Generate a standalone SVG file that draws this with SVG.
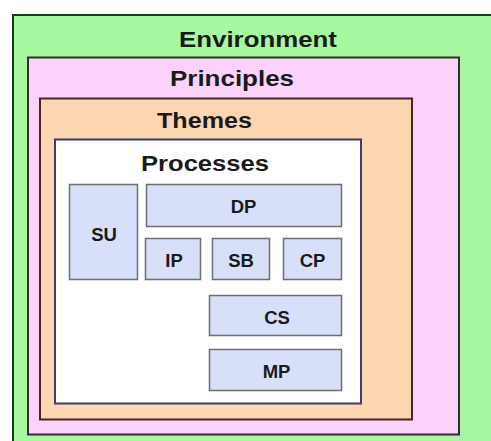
<svg xmlns="http://www.w3.org/2000/svg" width="491" height="441" viewBox="0 0 491 441">
<style>
.t{font-family:"Liberation Sans",Arial,sans-serif;font-weight:bold;fill:#1a1a1a;text-anchor:middle}
.h{font-size:22.5px}
.b{font-size:18.5px}
.box{fill:#d7e0f8;stroke:#6e6e6e;stroke-width:1.5}
</style>
<rect width="491" height="441" fill="#ffffff"/>
<g id="environment">
<rect x="13" y="15" width="480" height="430" fill="#a7f8a0" stroke="#1e3a1e" stroke-width="2"/>
<text class="t h" x="258" y="47" textLength="158" lengthAdjust="spacingAndGlyphs">Environment</text>
</g>
<g id="principles">
<rect x="28" y="57.5" width="431" height="377" fill="#fad2fa" stroke="#2e2e2e" stroke-width="2"/>
<text class="t h" x="232" y="86" textLength="124" lengthAdjust="spacingAndGlyphs">Principles</text>
</g>
<g id="themes">
<rect x="40" y="98.5" width="372" height="321" fill="#fbd6b0" stroke="#4a2424" stroke-width="2"/>
<text class="t h" x="204.5" y="128" textLength="95" lengthAdjust="spacingAndGlyphs">Themes</text>
</g>
<g id="processes">
<rect x="55" y="139.5" width="306" height="264" fill="#ffffff" stroke="#3c3a7a" stroke-width="2"/>
<text class="t h" x="205" y="171" textLength="128" lengthAdjust="spacingAndGlyphs">Processes</text>
</g>
<g id="SU"><rect class="box" x="69.5" y="184.5" width="68" height="95"/><text class="t b" x="104" y="241">SU</text></g>
<g id="DP"><rect class="box" x="146.5" y="184.5" width="195" height="42"/><text class="t b" x="243.5" y="213">DP</text></g>
<g id="IP"><rect class="box" x="145.5" y="238.5" width="55" height="41"/><text class="t b" x="174" y="267">IP</text></g>
<g id="SB"><rect class="box" x="212.5" y="238.5" width="57" height="41"/><text class="t b" x="241" y="267">SB</text></g>
<g id="CP"><rect class="box" x="283.5" y="238.5" width="58" height="41"/><text class="t b" x="312.5" y="267">CP</text></g>
<g id="CS"><rect class="box" x="209.5" y="295.5" width="132" height="40"/><text class="t b" x="277" y="324">CS</text></g>
<g id="MP"><rect class="box" x="209.5" y="349.5" width="132" height="41"/><text class="t b" x="276.5" y="378">MP</text></g>
<g id="connectors"></g>
</svg>
